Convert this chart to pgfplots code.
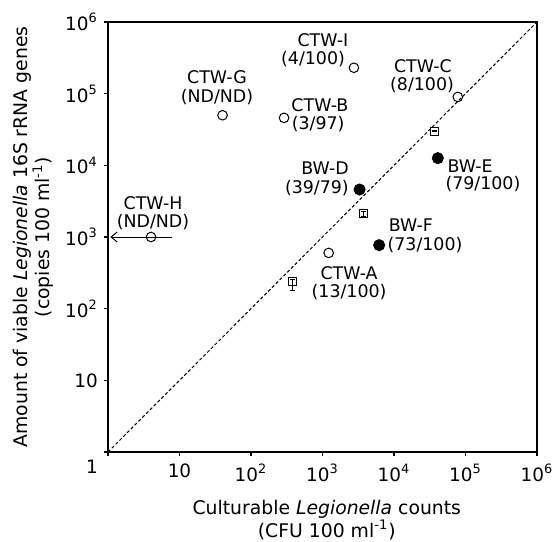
\documentclass[border=0pt]{standalone}
\usepackage{fontspec}
\setmainfont{DejaVu Sans}
\usepackage{pgfplots}
\pgfplotsset{compat=1.18}
\usetikzlibrary{arrows.meta,calc}

\begin{document}
\fontsize{8.7}{11.3}\selectfont
\begin{tikzpicture}[font=\fontsize{8.7}{11.3}\selectfont]
\begin{axis}[
  scale only axis,
  width=214.5pt, height=215pt,
  xmode=log, ymode=log,
  xmin=1, xmax=1e6, ymin=1, ymax=1e6,
  xtick={1,10,100,1000,10000,100000,1000000},
  ytick={1,10,100,1000,10000,100000,1000000},
  xticklabels={,10,10\textsuperscript{2},10\textsuperscript{3},10\textsuperscript{4},10\textsuperscript{5},10\textsuperscript{6}},
  yticklabels={,10,10\textsuperscript{2},10\textsuperscript{3},10\textsuperscript{4},10\textsuperscript{5},10\textsuperscript{6}},
  xminorticks=false, yminorticks=false,
  tick align=outside, tick pos=left,
  major tick length=2pt,
  every tick/.style={black, line width=0.6pt},
  axis line style={line width=0.6pt},
  tick label style={font=\fontsize{9.2}{11}\selectfont},
  xticklabel style={yshift=-1pt},
  xlabel={Culturable \textit{Legionella} counts\\(CFU 100 ml\textsuperscript{-1})},
  ylabel={Amount of viable \textit{Legionella} 16S rRNA genes\\(copies 100 ml\textsuperscript{-1})},
  xlabel style={font=\fontsize{9.4}{11.3}\selectfont, align=center, at={(axis description cs:0.51,0)}, anchor=north, yshift=-21pt},
  ylabel style={font=\fontsize{9.4}{11.3}\selectfont, align=center, at={(axis description cs:0,0.5)}, anchor=south, yshift=24pt},
  clip=false,
]
% 1:1 line
\addplot[black, line width=0.5pt, dash pattern=on 1.6pt off 1.1pt] coordinates {(1,1) (1000000,1000000)};

% CTW samples (open circles)
\addplot[only marks, mark=o, mark size=2.4pt, mark options={line width=0.5pt, fill=white}, black] coordinates {
  (2750,230000) (78000,90000) (40,50000) (290,46000) (1220,600) (4,1000)
};
% BW samples (filled circles)
\addplot[only marks, mark=*, mark size=2.8pt, black] coordinates {
  (41000,12600) (3300,4600) (6200,770)
};
% squares with error bars
\addplot[only marks, mark=square, mark size=2pt, mark options={line width=0.55pt}, black,
  error bars/.cd, y dir=both, y explicit,
  error bar style={line width=0.5pt},
  error mark options={rotate=90, mark size=1.2pt, line width=0.5pt}] coordinates {
  (37000,30000) +- (0,300)
  (3700,2100) +- (0,170)
  (380,237) += (0,22) -= (0,55)
};
% not detected in culture
\addplot[black, line width=0.5pt, -{Straight Barb[length=3pt, width=5pt]}] coordinates {(7.8,1000) (1.08,1000)};

% sample labels
\node at (rel axis cs:0.501,0.958) {CTW-I};
\node at (rel axis cs:0.478,0.914) {(4/100)};
\node at (rel axis cs:0.254,0.872) {CTW-G};
\node at (rel axis cs:0.254,0.826) {(ND/ND)};
\node at (rel axis cs:0.494,0.807) {CTW-B};
\node at (rel axis cs:0.490,0.763) {(3/97)};
\node at (rel axis cs:0.734,0.898) {CTW-C};
\node at (rel axis cs:0.732,0.853) {(8/100)};
\node at (rel axis cs:0.844,0.665) {BW-E};
\node at (rel axis cs:0.874,0.623) {(79/100)};
\node at (rel axis cs:0.506,0.660) {BW-D};
\node at (rel axis cs:0.487,0.614) {(39/79)};
\node at (rel axis cs:0.105,0.579) {CTW-H};
\node at (rel axis cs:0.105,0.535) {(ND/ND)};
\node at (rel axis cs:0.706,0.528) {BW-F};
\node at (rel axis cs:0.739,0.481) {(73/100)};
\node at (rel axis cs:0.562,0.416) {CTW-A};
\node at (rel axis cs:0.562,0.372) {(13/100)};
% shared origin label
\node[font=\fontsize{9.2}{11}\selectfont] at ($(rel axis cs:0,0)+(-8pt,-7.2pt)$) {1};
\end{axis}
\pgfresetboundingbox
\path ($(current axis.south west)+(-54pt,-44.5pt)$) rectangle ($(current axis.north east)+(10pt,11pt)$);
\end{tikzpicture}
\end{document}
